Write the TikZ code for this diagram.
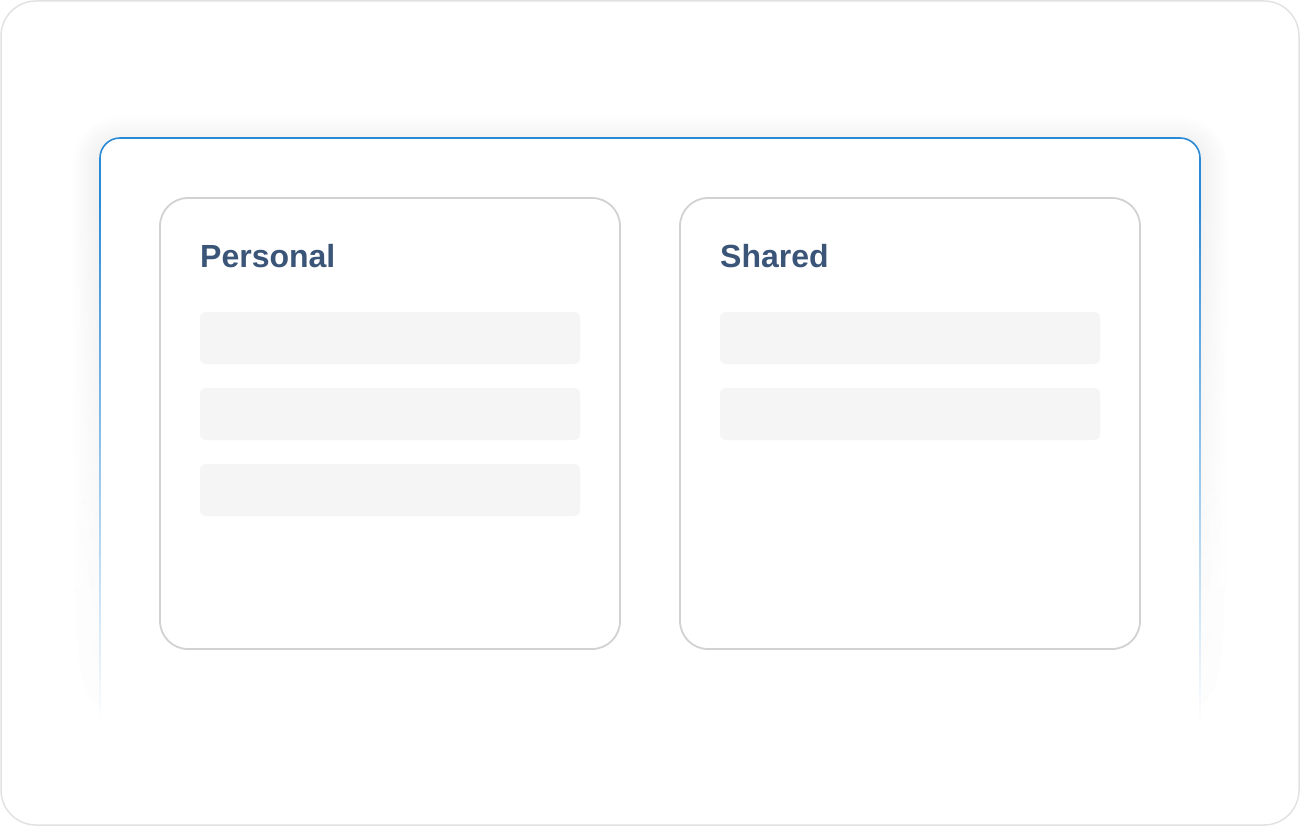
\documentclass[tikz,border=0pt]{standalone}
\usepackage{fontspec}
\setmainfont{Liberation Sans}
\usetikzlibrary{fadings}
\definecolor{framegray}{HTML}{E2E2E2}
\definecolor{cardblue}{HTML}{2B8AD6}
\definecolor{panelgray}{HTML}{D2D2D2}
\definecolor{barfill}{HTML}{F5F5F5}
\definecolor{titleblue}{HTML}{3B5578}
\tikzfading[name=fadedown, top color=transparent!100, bottom color=transparent!0]
\tikzset{
  panel/.style={draw=panelgray, line width=1.8pt, rounded corners=28pt, fill=white},
  bar/.style={fill=barfill, rounded corners=6pt},
  title/.style={anchor=base west, inner sep=0pt, text=titleblue,
    font=\fontsize{32}{38}\selectfont\bfseries}
}
\begin{document}
\begin{tikzpicture}[x=1pt,y=-1pt]
    \useasboundingbox (0,0) rectangle (1300,826);
    % outer frame
    \draw[framegray, line width=1.5pt, rounded corners=35pt] (1,1) rectangle (1299,825);
    % soft shadow round the card
    \foreach \i in {1,...,14}
        \fill[black, opacity=0.005, rounded corners=20pt+\i*2pt]
            (100-\i*2,144-\i*2) rectangle (1200+\i*2,780+\i*2);
    % card
    \draw[cardblue, line width=1.6pt, fill=white, rounded corners=20pt] (100,138) rectangle (1200,780);
    % card fades out towards the bottom
    \fill[white, path fading=fadedown] (66,200) rectangle (1234,722);
    \fill[white] (66,721) rectangle (1234,818);
    % panels
    \draw[panel] (160,198) rectangle (620,649);
    \draw[panel] (680,198) rectangle (1140,649);
    \node[title] (personal) at (200,268) {Personal};
    \node[title] (shared) at (720,268) {Shared};
    \foreach \y in {312,388,464}
        \fill[bar] (200,\y) rectangle (580,\y+52);
    \foreach \y in {312,388}
        \fill[bar] (720,\y) rectangle (1100,\y+52);
\end{tikzpicture}
\end{document}
